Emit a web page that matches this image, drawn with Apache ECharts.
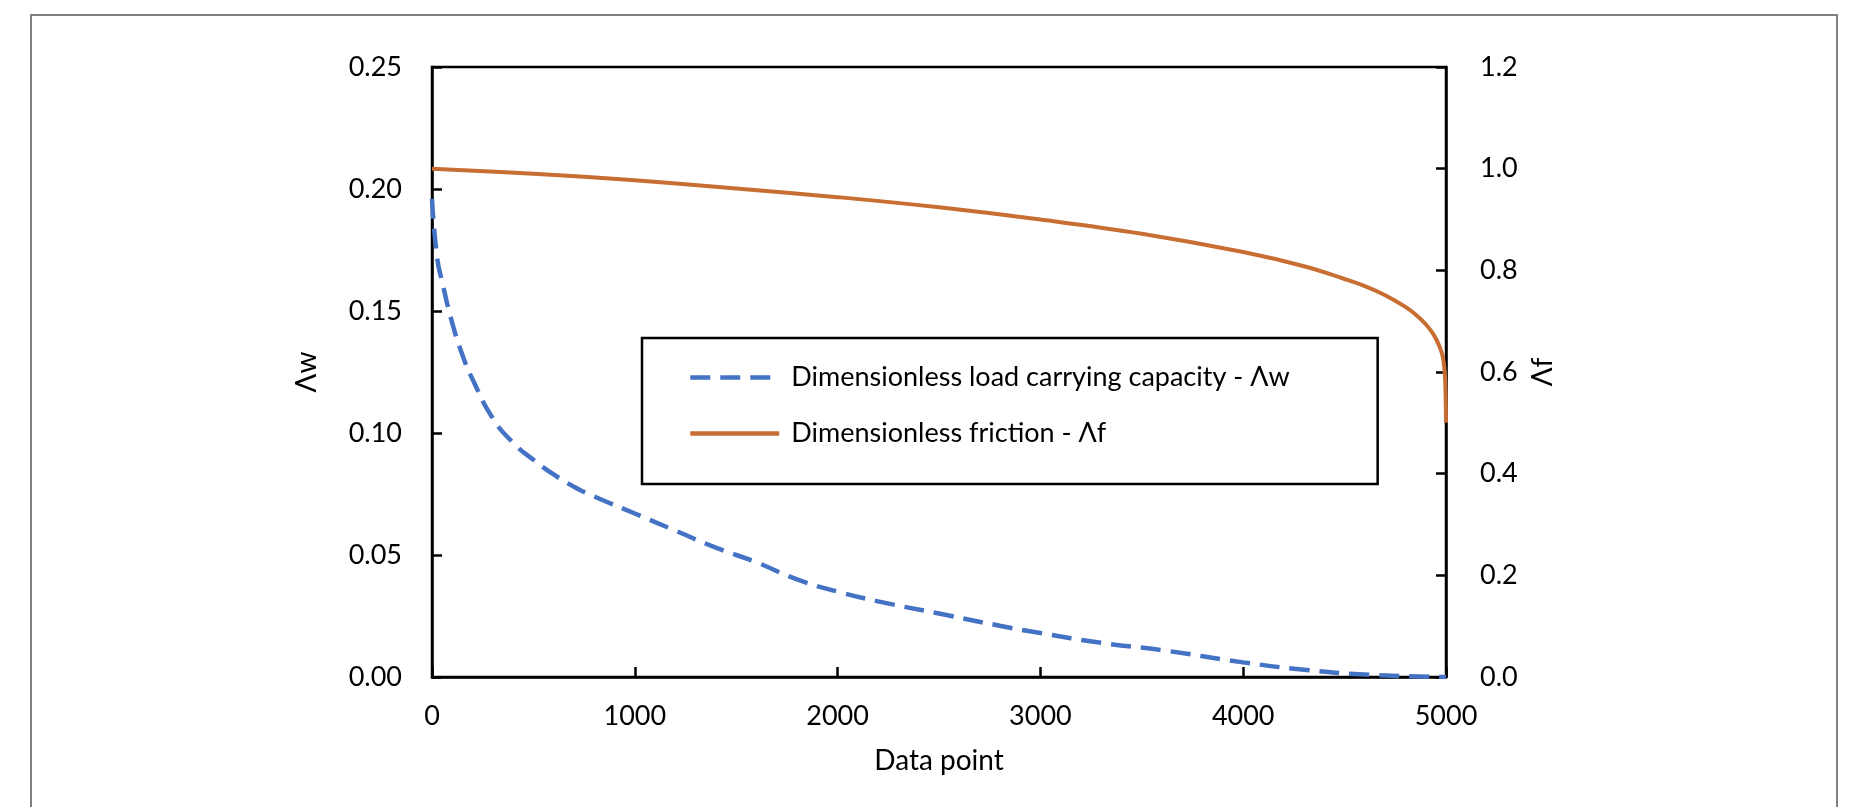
<!DOCTYPE html>
<html>
<head>
<meta charset="utf-8">
<script src="https://cdn.jsdelivr.net/npm/echarts@6/dist/echarts.min.js"></script>
<style>
    html, body { margin: 0; padding: 0; background: #fff; }
    #chart { width: 1860px; height: 807px; }
</style>
</head>
<body>
<div id="chart"></div>
<script type="text/javascript">
    // load carrying capacity (left axis)
    var loadX = [0, 25, 50, 100, 150, 200, 300, 400, 500, 600, 700, 800, 1000, 1200, 1400, 1600, 1800, 2000, 2200, 2500, 2800, 3000, 3300, 3600, 4000, 4300, 4600, 5000];
    var loadY = [0.196, 0.172, 0.162, 0.145, 0.132, 0.122, 0.106, 0.096, 0.089, 0.083, 0.078, 0.074, 0.067, 0.060, 0.053, 0.047, 0.040, 0.035, 0.031, 0.026, 0.021, 0.018, 0.014, 0.011, 0.006, 0.003, 0.001, 0.000];
    // friction (right axis)
    var fricX = [0, 500, 1000, 1500, 2000, 2500, 3000, 3500, 4000, 4300, 4500, 4600, 4700, 4800, 4850, 4900, 4940, 4970, 4985, 4993, 4997, 5000];
    var fricY = [1.0, 0.99, 0.977, 0.961, 0.944, 0.924, 0.900, 0.872, 0.836, 0.808, 0.783, 0.769, 0.751, 0.728, 0.713, 0.694, 0.673, 0.648, 0.628, 0.603, 0.572, 0.50];

    var loadName = 'Dimensionless load carrying capacity - Λw';
    var fricName = 'Dimensionless friction - Λf';

    function pairs(xs, ys) {
        var out = [];
        for (var i = 0; i < xs.length; i++) {
            out.push([xs[i], ys[i]]);
        }
        return out;
    }

    var font = 'Lato';

    var option = {
        animation: false,
        backgroundColor: '#fff',
        textStyle: {fontFamily: font},
        graphic: [{
            type: 'rect',
            shape: {x: 31, y: 15, width: 1806, height: 820},
            style: {fill: 'none', stroke: '#808080', lineWidth: 2}
        }],
        grid: {
            left: 432, right: 414, top: 67, bottom: 130,
            show: true, borderColor: '#000', borderWidth: 2.5
        },
        legend: {
            orient: 'vertical',
            left: 642, top: 338,
            padding: [26, 88, 37, 46],
            itemGap: 29,
            itemWidth: 89, itemHeight: 10,
            itemStyle: {opacity: 0},
            lineStyle: {width: 4.5},
            borderColor: '#000', borderWidth: 2.5,
            textStyle: {color: '#000', fontFamily: font, fontSize: 27, padding: [0, 0, 0, 7]},
            data: [loadName, fricName]
        },
        xAxis: {
            type: 'value', min: 0, max: 5000, interval: 1000,
            name: 'Data point', nameLocation: 'middle', nameGap: 70,
            nameTextStyle: {color: '#000', fontFamily: font, fontSize: 28},
            axisLine: {lineStyle: {color: '#000', width: 2.5}},
            axisTick: {inside: true, length: 10, lineStyle: {color: '#000', width: 2.5}},
            axisLabel: {color: '#000', fontFamily: font, fontSize: 27, margin: 26,
                formatter: function (v) { return String(v); }},
            splitLine: {show: false}
        },
        yAxis: [{
            type: 'value', min: 0, max: 0.25, interval: 0.05,
            name: 'Λw', nameLocation: 'middle', nameGap: 111, nameRotate: 90,
            nameTextStyle: {color: '#000', fontFamily: font, fontSize: 28},
            axisLine: {show: true, lineStyle: {color: '#000', width: 2.5}},
            axisTick: {show: true, inside: true, length: 10, lineStyle: {color: '#000', width: 2.5}},
            axisLabel: {color: '#000', fontFamily: font, fontSize: 27, margin: 30,
                formatter: function (v) { return v.toFixed(2); }},
            splitLine: {show: false}
        }, {
            type: 'value', min: 0, max: 1.2, interval: 0.2, position: 'right',
            name: 'Λf', nameLocation: 'middle', nameGap: 61, nameRotate: 90,
            nameTextStyle: {color: '#000', fontFamily: font, fontSize: 28},
            axisLine: {show: true, lineStyle: {color: '#000', width: 2.5}},
            axisTick: {show: true, inside: true, length: 10, lineStyle: {color: '#000', width: 2.5}},
            axisLabel: {color: '#000', fontFamily: font, fontSize: 27, margin: 34,
                formatter: function (v) { return v.toFixed(1); }},
            splitLine: {show: false}
        }],
        series: [{
            name: loadName,
            type: 'line',
            yAxisIndex: 0,
            smooth: true,
            symbol: 'none',
            data: pairs(loadX, loadY),
            lineStyle: {color: '#4472C4', width: 4.5, type: [20, 10]},
            itemStyle: {color: '#4472C4'}
        }, {
            name: fricName,
            type: 'line',
            yAxisIndex: 1,
            smooth: 0.4,
            symbol: 'none',
            data: pairs(fricX, fricY),
            lineStyle: {color: '#C86E32', width: 4},
            itemStyle: {color: '#C86E32'}
        }]
    };

    var myChart = echarts.init(document.getElementById('chart'));
    myChart.setOption(option);
</script>
</body>
</html>
